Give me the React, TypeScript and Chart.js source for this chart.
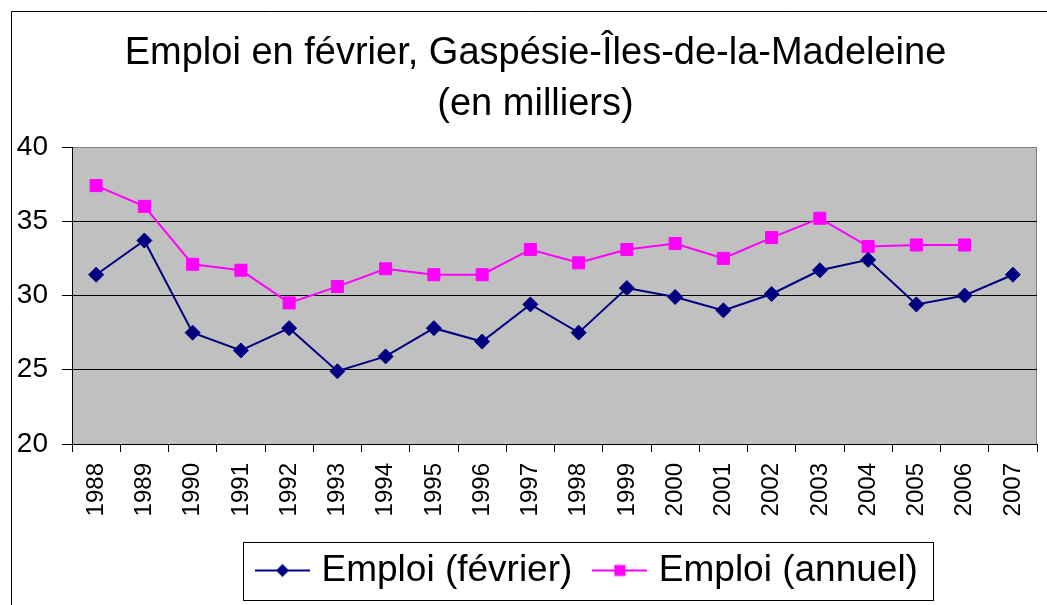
import React, { useEffect, useRef } from "react";
import { Chart, registerables } from "chart.js";

Chart.register(...registerables);

const years = ["1988","1989","1990","1991","1992","1993","1994","1995","1996","1997","1998","1999","2000","2001","2002","2003","2004","2005","2006","2007"];
const emploiFevrier = [31.4, 33.7, 27.5, 26.3, 27.8, 24.9, 25.9, 27.8, 26.9, 29.4, 27.5, 30.5, 29.9, 29.0, 30.1, 31.7, 32.4, 29.4, 30.0, 31.4];
const emploiAnnuel = [37.4, 36.0, 32.1, 31.7, 29.5, 30.6, 31.8, 31.4, 31.4, 33.1, 32.2, 33.1, 33.5, 32.5, 33.9, 35.2, 33.3, 33.4, 33.4, null];
const titleLines = ["Emploi en février, Gaspésie-Îles-de-la-Madeleine", "(en milliers)"];
const seriesLabels = ["Emploi (février)", "Emploi (annuel)"];
const yTicks = { min: 20, max: 40, step: 5 };

const FONT = "'Liberation Sans', Arial, sans-serif";
const NAVY = "#000080";
const MAGENTA = "#FF00FF";

function makeLegendImage(color: string, kind: "diamond" | "square") {
  const c = document.createElement("canvas");
  c.width = 55;
  c.height = 16;
  const g = c.getContext("2d")!;
  g.strokeStyle = color;
  g.lineWidth = 2;
  g.beginPath();
  g.moveTo(0, 8);
  g.lineTo(55, 8);
  g.stroke();
  g.fillStyle = color;
  if (kind === "diamond") {
    g.beginPath();
    g.moveTo(27.5, 1.5);
    g.lineTo(34, 8);
    g.lineTo(27.5, 14.5);
    g.lineTo(21, 8);
    g.closePath();
    g.fill();
  } else {
    g.fillRect(22, 2.5, 11, 11);
  }
  return c;
}

const decorPlugin = {
  id: "decor",
  afterLayout(chart: any) {
    if (chart.legend) {
      chart.legend.left = 235;
    }
    if (chart.titleBlock) {
      chart.titleBlock.left = 34;
      chart.titleBlock.right = 1037;
    }
  },
  beforeDraw(chart: any) {
    const { ctx, chartArea } = chart;
    ctx.save();
    ctx.fillStyle = "#ffffff";
    ctx.fillRect(0, 0, chart.width, chart.height);
    ctx.strokeStyle = "#000000";
    ctx.lineWidth = 1;
    ctx.beginPath();
    ctx.moveTo(11.5, chart.height + 5);
    ctx.lineTo(11.5, 11.5);
    ctx.lineTo(chart.width + 5, 11.5);
    ctx.stroke();
    ctx.fillStyle = "#C0C0C0";
    ctx.fillRect(chartArea.left, chartArea.top, chartArea.right - chartArea.left, chartArea.bottom - chartArea.top);
    ctx.strokeStyle = "#808080";
    ctx.strokeRect(chartArea.left + 0.5, chartArea.top + 0.5, chartArea.right - chartArea.left - 1, chartArea.bottom - chartArea.top);
    ctx.restore();
  },
  afterDraw(chart: any) {
    const lg = chart.legend;
    if (!lg || !lg.legendHitBoxes || lg.legendHitBoxes.length === 0) return;
    const hb = lg.legendHitBoxes;
    const first = hb[0];
    const last = hb[hb.length - 1];
    const left = first.left - 19;
    const right = last.left + last.width + 15;
    const top = first.top - 10;
    const bottom = first.top + first.height + 11;
    const ctx = chart.ctx;
    ctx.save();
    ctx.strokeStyle = "#000000";
    ctx.lineWidth = 1;
    ctx.strokeRect(Math.round(left) + 0.5, Math.round(top) + 0.5, Math.round(right - left), Math.round(bottom - top));
    ctx.restore();
  },
};

export default function App() {
  const ref = useRef<HTMLCanvasElement | null>(null);

  useEffect(() => {
    if (!ref.current) return;
    const imgs = [makeLegendImage(NAVY, "diamond"), makeLegendImage(MAGENTA, "square")];
    const chart = new Chart(ref.current, {
      type: "line",
      data: {
        labels: years,
        datasets: [
          {
            label: seriesLabels[0],
            data: emploiFevrier,
            borderColor: NAVY,
            backgroundColor: NAVY,
            borderWidth: 2,
            pointStyle: "rectRot",
            pointRadius: 7.5,
            pointBorderWidth: 1,
            pointBorderColor: NAVY,
            pointBackgroundColor: NAVY,
            tension: 0,
          },
          {
            label: seriesLabels[1],
            data: emploiAnnuel,
            borderColor: MAGENTA,
            backgroundColor: MAGENTA,
            borderWidth: 2,
            pointStyle: "rect",
            pointRadius: 8.5,
            pointBorderWidth: 1,
            pointBorderColor: MAGENTA,
            pointBackgroundColor: MAGENTA,
            tension: 0,
            spanGaps: false,
          },
        ],
      },
      options: {
        responsive: false,
        animation: false,
        events: [],
        layout: { padding: { left: 12, right: 10, top: 0, bottom: 6 } },
        plugins: {
          tooltip: { enabled: false },
          title: {
            display: true,
            text: titleLines,
            color: "#000000",
            font: { family: FONT, size: 38, weight: "normal", lineHeight: 1.35 },
            padding: { top: 28, bottom: 16.4 },
          },
          legend: {
            display: true,
            position: "bottom",
            align: "start",
            labels: {
              usePointStyle: true,
              pointStyleWidth: 41,
              padding: 27,
              color: "#000000",
              font: { family: FONT, size: 37 },
              generateLabels: (ch: any) =>
                ch.data.datasets.map((ds: any, i: number) => ({
                  text: ds.label,
                  pointStyle: imgs[i],
                  fillStyle: ds.borderColor,
                  strokeStyle: ds.borderColor,
                  lineWidth: 0,
                  hidden: false,
                  datasetIndex: i,
                  fontColor: "#000000",
                })),
            },
          },
        },
        scales: {
          x: {
            type: "category",
            offset: true,
            afterFit: (s: any) => {
              s.height = 81;
              s.paddingLeft = 0;
              s.paddingRight = 0;
            },
            grid: {
              offset: true,
              drawOnChartArea: false,
              drawTicks: true,
              tickLength: 8,
              color: "#000000",
              tickColor: "#000000",
            },
            border: { display: true, color: "#000000", width: 1 },
            ticks: {
              autoSkip: false,
              minRotation: 90,
              maxRotation: 90,
              padding: 11,
              color: "#000000",
              font: { family: FONT, size: 24 },
            },
          },
          y: {
            min: yTicks.min,
            max: yTicks.max,
            afterFit: (s: any) => {
              s.width = 60;
            },
            grid: {
              drawTicks: true,
              tickLength: 10,
              color: (c: any) => (c.tick && c.tick.value === yTicks.max ? "#808080" : "#000000"),
              tickColor: "#000000",
              lineWidth: 1,
            },
            border: { display: true, color: "#000000", width: 1 },
            ticks: {
              stepSize: yTicks.step,
              padding: 14,
              color: "#000000",
              font: { family: FONT, size: 28 },
            },
          },
        },
      },
      plugins: [decorPlugin],
    } as any);
    return () => chart.destroy();
  }, []);

  return (
    <div style={{ position: "absolute", left: 0, top: 0, width: 1047, height: 605 }}>
      <canvas ref={ref} width={1047} height={605} />
    </div>
  );
}
